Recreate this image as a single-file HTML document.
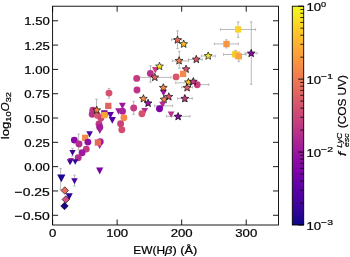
<!DOCTYPE html><html><head><meta charset="utf-8"><style>html,body{margin:0;padding:0;background:#fff;}svg{display:block;will-change:transform;}text{font-family:"Liberation Sans",sans-serif;fill:#000;stroke:#000;stroke-width:0.22px;}</style></head><body><svg width="350" height="257" viewBox="0 0 350 257"><defs><linearGradient id="pl" x1="0" y1="1" x2="0" y2="0"><stop offset="0.000" stop-color="#0d0887"/><stop offset="0.050" stop-color="#2a0593"/><stop offset="0.100" stop-color="#41049d"/><stop offset="0.150" stop-color="#5601a4"/><stop offset="0.200" stop-color="#6a00a8"/><stop offset="0.250" stop-color="#7e03a8"/><stop offset="0.300" stop-color="#8f0da4"/><stop offset="0.350" stop-color="#a11b9b"/><stop offset="0.400" stop-color="#b12a90"/><stop offset="0.450" stop-color="#bf3984"/><stop offset="0.500" stop-color="#cc4778"/><stop offset="0.550" stop-color="#d6556d"/><stop offset="0.600" stop-color="#e16462"/><stop offset="0.650" stop-color="#ea7457"/><stop offset="0.700" stop-color="#f2844b"/><stop offset="0.750" stop-color="#f89540"/><stop offset="0.800" stop-color="#fca636"/><stop offset="0.850" stop-color="#feba2c"/><stop offset="0.900" stop-color="#fcce25"/><stop offset="0.950" stop-color="#f7e425"/><stop offset="1.000" stop-color="#f0f921"/></linearGradient></defs><g id="pts"><line x1="220.4" y1="29.5" x2="255.6" y2="29.5" stroke="#a8a8a8" stroke-width="0.8"/>
<line x1="220.4" y1="28.2" x2="220.4" y2="30.8" stroke="#a8a8a8" stroke-width="0.8"/>
<line x1="255.6" y1="28.2" x2="255.6" y2="30.8" stroke="#a8a8a8" stroke-width="0.8"/>
<line x1="238.1" y1="21.9" x2="238.1" y2="37.4" stroke="#a8a8a8" stroke-width="0.8"/>
<line x1="236.79999999999998" y1="21.9" x2="239.4" y2="21.9" stroke="#a8a8a8" stroke-width="0.8"/>
<line x1="236.79999999999998" y1="37.4" x2="239.4" y2="37.4" stroke="#a8a8a8" stroke-width="0.8"/>
<line x1="251.3" y1="21.9" x2="251.3" y2="84.3" stroke="#a8a8a8" stroke-width="0.8"/>
<line x1="250.0" y1="21.9" x2="252.60000000000002" y2="21.9" stroke="#a8a8a8" stroke-width="0.8"/>
<line x1="250.0" y1="84.3" x2="252.60000000000002" y2="84.3" stroke="#a8a8a8" stroke-width="0.8"/>
<line x1="245.0" y1="53.2" x2="257.0" y2="53.2" stroke="#a8a8a8" stroke-width="0.8"/>
<line x1="245.0" y1="51.900000000000006" x2="245.0" y2="54.5" stroke="#a8a8a8" stroke-width="0.8"/>
<line x1="257.0" y1="51.900000000000006" x2="257.0" y2="54.5" stroke="#a8a8a8" stroke-width="0.8"/>
<line x1="214.4" y1="43.9" x2="238.4" y2="43.9" stroke="#a8a8a8" stroke-width="0.8"/>
<line x1="214.4" y1="42.6" x2="214.4" y2="45.199999999999996" stroke="#a8a8a8" stroke-width="0.8"/>
<line x1="238.4" y1="42.6" x2="238.4" y2="45.199999999999996" stroke="#a8a8a8" stroke-width="0.8"/>
<line x1="226.4" y1="39.8" x2="226.4" y2="47.9" stroke="#a8a8a8" stroke-width="0.8"/>
<line x1="225.1" y1="39.8" x2="227.70000000000002" y2="39.8" stroke="#a8a8a8" stroke-width="0.8"/>
<line x1="225.1" y1="47.9" x2="227.70000000000002" y2="47.9" stroke="#a8a8a8" stroke-width="0.8"/>
<line x1="223.5" y1="54.5" x2="246.1" y2="54.5" stroke="#a8a8a8" stroke-width="0.8"/>
<line x1="223.5" y1="53.2" x2="223.5" y2="55.8" stroke="#a8a8a8" stroke-width="0.8"/>
<line x1="246.1" y1="53.2" x2="246.1" y2="55.8" stroke="#a8a8a8" stroke-width="0.8"/>
<line x1="235.5" y1="50.4" x2="235.5" y2="58.0" stroke="#a8a8a8" stroke-width="0.8"/>
<line x1="234.2" y1="50.4" x2="236.8" y2="50.4" stroke="#a8a8a8" stroke-width="0.8"/>
<line x1="234.2" y1="58.0" x2="236.8" y2="58.0" stroke="#a8a8a8" stroke-width="0.8"/>
<line x1="238.8" y1="52.0" x2="238.8" y2="61.6" stroke="#a8a8a8" stroke-width="0.8"/>
<line x1="237.5" y1="52.0" x2="240.10000000000002" y2="52.0" stroke="#a8a8a8" stroke-width="0.8"/>
<line x1="237.5" y1="61.6" x2="240.10000000000002" y2="61.6" stroke="#a8a8a8" stroke-width="0.8"/>
<line x1="201.4" y1="56.0" x2="215.3" y2="56.0" stroke="#a8a8a8" stroke-width="0.8"/>
<line x1="201.4" y1="54.7" x2="201.4" y2="57.3" stroke="#a8a8a8" stroke-width="0.8"/>
<line x1="215.3" y1="54.7" x2="215.3" y2="57.3" stroke="#a8a8a8" stroke-width="0.8"/>
<line x1="188.6" y1="59.5" x2="202.3" y2="59.5" stroke="#a8a8a8" stroke-width="0.8"/>
<line x1="188.6" y1="58.2" x2="188.6" y2="60.8" stroke="#a8a8a8" stroke-width="0.8"/>
<line x1="202.3" y1="58.2" x2="202.3" y2="60.8" stroke="#a8a8a8" stroke-width="0.8"/>
<line x1="177.5" y1="30.9" x2="177.5" y2="48.6" stroke="#a8a8a8" stroke-width="0.8"/>
<line x1="176.2" y1="30.9" x2="178.8" y2="30.9" stroke="#a8a8a8" stroke-width="0.8"/>
<line x1="176.2" y1="48.6" x2="178.8" y2="48.6" stroke="#a8a8a8" stroke-width="0.8"/>
<line x1="171.5" y1="39.6" x2="181.8" y2="39.6" stroke="#a8a8a8" stroke-width="0.8"/>
<line x1="171.5" y1="38.300000000000004" x2="171.5" y2="40.9" stroke="#a8a8a8" stroke-width="0.8"/>
<line x1="181.8" y1="38.300000000000004" x2="181.8" y2="40.9" stroke="#a8a8a8" stroke-width="0.8"/>
<line x1="179.3" y1="51.4" x2="179.3" y2="68.2" stroke="#a8a8a8" stroke-width="0.8"/>
<line x1="178.0" y1="51.4" x2="180.60000000000002" y2="51.4" stroke="#a8a8a8" stroke-width="0.8"/>
<line x1="178.0" y1="68.2" x2="180.60000000000002" y2="68.2" stroke="#a8a8a8" stroke-width="0.8"/>
<line x1="172.3" y1="60.9" x2="188.5" y2="60.9" stroke="#a8a8a8" stroke-width="0.8"/>
<line x1="172.3" y1="59.6" x2="172.3" y2="62.199999999999996" stroke="#a8a8a8" stroke-width="0.8"/>
<line x1="188.5" y1="59.6" x2="188.5" y2="62.199999999999996" stroke="#a8a8a8" stroke-width="0.8"/>
<line x1="150.4" y1="65.8" x2="150.4" y2="82.2" stroke="#a8a8a8" stroke-width="0.8"/>
<line x1="149.1" y1="65.8" x2="151.70000000000002" y2="65.8" stroke="#a8a8a8" stroke-width="0.8"/>
<line x1="149.1" y1="82.2" x2="151.70000000000002" y2="82.2" stroke="#a8a8a8" stroke-width="0.8"/>
<line x1="136.8" y1="77.4" x2="170.9" y2="77.4" stroke="#a8a8a8" stroke-width="0.8"/>
<line x1="136.8" y1="76.10000000000001" x2="136.8" y2="78.7" stroke="#a8a8a8" stroke-width="0.8"/>
<line x1="170.9" y1="76.10000000000001" x2="170.9" y2="78.7" stroke="#a8a8a8" stroke-width="0.8"/>
<line x1="196.8" y1="84.6" x2="208.8" y2="84.6" stroke="#a8a8a8" stroke-width="0.8"/>
<line x1="196.8" y1="83.3" x2="196.8" y2="85.89999999999999" stroke="#a8a8a8" stroke-width="0.8"/>
<line x1="208.8" y1="83.3" x2="208.8" y2="85.89999999999999" stroke="#a8a8a8" stroke-width="0.8"/>
<line x1="175.7" y1="82.8" x2="190.0" y2="82.8" stroke="#a8a8a8" stroke-width="0.8"/>
<line x1="175.7" y1="81.5" x2="175.7" y2="84.1" stroke="#a8a8a8" stroke-width="0.8"/>
<line x1="190.0" y1="81.5" x2="190.0" y2="84.1" stroke="#a8a8a8" stroke-width="0.8"/>
<line x1="181.7" y1="87.3" x2="192.5" y2="87.3" stroke="#a8a8a8" stroke-width="0.8"/>
<line x1="181.7" y1="86.0" x2="181.7" y2="88.6" stroke="#a8a8a8" stroke-width="0.8"/>
<line x1="192.5" y1="86.0" x2="192.5" y2="88.6" stroke="#a8a8a8" stroke-width="0.8"/>
<line x1="177.7" y1="98.4" x2="192.3" y2="98.4" stroke="#a8a8a8" stroke-width="0.8"/>
<line x1="177.7" y1="97.10000000000001" x2="177.7" y2="99.7" stroke="#a8a8a8" stroke-width="0.8"/>
<line x1="192.3" y1="97.10000000000001" x2="192.3" y2="99.7" stroke="#a8a8a8" stroke-width="0.8"/>
<line x1="184.9" y1="95.1" x2="184.9" y2="101.5" stroke="#a8a8a8" stroke-width="0.8"/>
<line x1="183.6" y1="95.1" x2="186.20000000000002" y2="95.1" stroke="#a8a8a8" stroke-width="0.8"/>
<line x1="183.6" y1="101.5" x2="186.20000000000002" y2="101.5" stroke="#a8a8a8" stroke-width="0.8"/>
<line x1="166.6" y1="116.3" x2="190.0" y2="116.3" stroke="#a8a8a8" stroke-width="0.8"/>
<line x1="166.6" y1="115.0" x2="166.6" y2="117.6" stroke="#a8a8a8" stroke-width="0.8"/>
<line x1="190.0" y1="115.0" x2="190.0" y2="117.6" stroke="#a8a8a8" stroke-width="0.8"/>
<line x1="154.6" y1="105.8" x2="172.6" y2="105.8" stroke="#a8a8a8" stroke-width="0.8"/>
<line x1="154.6" y1="104.5" x2="154.6" y2="107.1" stroke="#a8a8a8" stroke-width="0.8"/>
<line x1="172.6" y1="104.5" x2="172.6" y2="107.1" stroke="#a8a8a8" stroke-width="0.8"/>
<line x1="133.7" y1="101.3" x2="133.7" y2="114.3" stroke="#a8a8a8" stroke-width="0.8"/>
<line x1="132.39999999999998" y1="101.3" x2="135.0" y2="101.3" stroke="#a8a8a8" stroke-width="0.8"/>
<line x1="132.39999999999998" y1="114.3" x2="135.0" y2="114.3" stroke="#a8a8a8" stroke-width="0.8"/>
<line x1="109.0" y1="88.4" x2="109.0" y2="98.2" stroke="#a8a8a8" stroke-width="0.8"/>
<line x1="107.7" y1="88.4" x2="110.3" y2="88.4" stroke="#a8a8a8" stroke-width="0.8"/>
<line x1="107.7" y1="98.2" x2="110.3" y2="98.2" stroke="#a8a8a8" stroke-width="0.8"/>
<line x1="96.5" y1="99.2" x2="96.5" y2="108.0" stroke="#a8a8a8" stroke-width="0.8"/>
<line x1="95.2" y1="99.2" x2="97.8" y2="99.2" stroke="#a8a8a8" stroke-width="0.8"/>
<line x1="95.2" y1="108.0" x2="97.8" y2="108.0" stroke="#a8a8a8" stroke-width="0.8"/>
<line x1="60.6" y1="168.4" x2="60.6" y2="189.3" stroke="#a8a8a8" stroke-width="0.8"/>
<line x1="59.300000000000004" y1="168.4" x2="61.9" y2="168.4" stroke="#a8a8a8" stroke-width="0.8"/>
<line x1="59.300000000000004" y1="189.3" x2="61.9" y2="189.3" stroke="#a8a8a8" stroke-width="0.8"/>
<line x1="74.5" y1="175.2" x2="74.5" y2="185.9" stroke="#a8a8a8" stroke-width="0.8"/>
<line x1="73.2" y1="175.2" x2="75.8" y2="175.2" stroke="#a8a8a8" stroke-width="0.8"/>
<line x1="73.2" y1="185.9" x2="75.8" y2="185.9" stroke="#a8a8a8" stroke-width="0.8"/>
<line x1="72.5" y1="148.4" x2="72.5" y2="156.0" stroke="#a8a8a8" stroke-width="0.8"/>
<line x1="71.2" y1="148.4" x2="73.8" y2="148.4" stroke="#a8a8a8" stroke-width="0.8"/>
<line x1="71.2" y1="156.0" x2="73.8" y2="156.0" stroke="#a8a8a8" stroke-width="0.8"/>
<line x1="78.6" y1="134.2" x2="78.6" y2="150.0" stroke="#a8a8a8" stroke-width="0.8"/>
<line x1="77.3" y1="134.2" x2="79.89999999999999" y2="134.2" stroke="#a8a8a8" stroke-width="0.8"/>
<line x1="77.3" y1="150.0" x2="79.89999999999999" y2="150.0" stroke="#a8a8a8" stroke-width="0.8"/>
<rect x="234.95" y="26.25" width="6.3" height="6.3" fill="#fcd225"/>
<rect x="223.35" y="40.85" width="6.3" height="6.3" fill="#f89540"/>
<rect x="232.15" y="51.15" width="6.3" height="6.3" fill="#fcc726"/>
<rect x="235.65" y="53.15" width="6.3" height="6.3" fill="#fba238"/>
<polygon points="251.20,49.30 252.28,51.91 255.10,52.13 252.95,53.97 253.61,56.72 251.20,55.24 248.79,56.72 249.45,53.97 247.30,52.13 250.12,51.91" fill="#8b0aa5" stroke="#000" stroke-width="0.65" stroke-linejoin="miter"/>
<polygon points="208.20,51.90 209.28,54.51 212.10,54.73 209.95,56.57 210.61,59.32 208.20,57.84 205.79,59.32 206.45,56.57 204.30,54.73 207.12,54.51" fill="#f4e926" stroke="#000" stroke-width="0.65" stroke-linejoin="miter"/>
<polygon points="177.50,35.90 178.58,38.51 181.40,38.73 179.25,40.57 179.91,43.32 177.50,41.84 175.09,43.32 175.75,40.57 173.60,38.73 176.42,38.51" fill="#e9695a" stroke="#000" stroke-width="0.65" stroke-linejoin="miter"/>
<polygon points="183.70,40.00 184.78,42.61 187.60,42.83 185.45,44.67 186.11,47.42 183.70,45.95 181.29,47.42 181.95,44.67 179.80,42.83 182.62,42.61" fill="#fcc125" stroke="#000" stroke-width="0.65" stroke-linejoin="miter"/>
<polygon points="179.10,56.70 180.18,59.31 183.00,59.53 180.85,61.37 181.51,64.12 179.10,62.64 176.69,64.12 177.35,61.37 175.20,59.53 178.02,59.31" fill="#f0824c" stroke="#000" stroke-width="0.65" stroke-linejoin="miter"/>
<polygon points="196.30,55.30 197.38,57.91 200.20,58.13 198.05,59.97 198.71,62.72 196.30,61.24 193.89,62.72 194.55,59.97 192.40,58.13 195.22,57.91" fill="#d6556d" stroke="#000" stroke-width="0.65" stroke-linejoin="miter"/>
<polygon points="186.10,65.10 187.18,67.71 190.00,67.93 187.85,69.77 188.51,72.52 186.10,71.05 183.69,72.52 184.35,69.77 182.20,67.93 185.02,67.71" fill="#d5536f" stroke="#000" stroke-width="0.65" stroke-linejoin="miter"/>
<rect x="179.95" y="70.75" width="6.3" height="6.3" fill="#f3894a"/>
<circle cx="176.1" cy="76.9" r="3.45" fill="#d8576b"/>
<polygon points="188.40,78.20 189.48,80.81 192.30,81.03 190.15,82.87 190.81,85.62 188.40,84.14 185.99,85.62 186.65,82.87 184.50,81.03 187.32,80.81" fill="#fdbf2b" stroke="#000" stroke-width="0.65" stroke-linejoin="miter"/>
<circle cx="197.2" cy="84.7" r="3.45" fill="#c73e7e"/>
<polygon points="193.30,77.50 194.38,80.11 197.20,80.33 195.05,82.17 195.71,84.92 193.30,83.44 190.89,84.92 191.55,82.17 189.40,80.33 192.22,80.11" fill="#c23c81" stroke="#000" stroke-width="0.65" stroke-linejoin="miter"/>
<polygon points="187.10,83.70 188.18,86.31 191.00,86.53 188.85,88.37 189.51,91.12 187.10,89.64 184.69,91.12 185.35,88.37 183.20,86.53 186.02,86.31" fill="#df5f65" stroke="#000" stroke-width="0.65" stroke-linejoin="miter"/>
<polygon points="184.80,94.60 185.88,97.21 188.70,97.43 186.55,99.27 187.21,102.02 184.80,100.55 182.39,102.02 183.05,99.27 180.90,97.43 183.72,97.21" fill="#c03b83" stroke="#000" stroke-width="0.65" stroke-linejoin="miter"/>
<polygon points="178.10,112.50 179.18,115.11 182.00,115.33 179.85,117.17 180.51,119.92 178.10,118.44 175.69,119.92 176.35,117.17 174.20,115.33 177.02,115.11" fill="#8b0aa5" stroke="#000" stroke-width="0.65" stroke-linejoin="miter"/>
<polygon points="151.90,67.00 158.70,67.00 155.30,73.40" fill="#c8407b"/>
<circle cx="150.4" cy="73.4" r="3.45" fill="#b8318a"/>
<polygon points="159.50,62.30 160.58,64.91 163.40,65.13 161.25,66.97 161.91,69.72 159.50,68.25 157.09,69.72 157.75,66.97 155.60,65.13 158.42,64.91" fill="#f6e626" stroke="#000" stroke-width="0.65" stroke-linejoin="miter"/>
<polygon points="154.80,73.30 155.88,75.91 158.70,76.13 156.55,77.97 157.21,80.72 154.80,79.25 152.39,80.72 153.05,77.97 150.90,76.13 153.72,75.91" fill="#e06464" stroke="#000" stroke-width="0.65" stroke-linejoin="miter"/>
<circle cx="136.7" cy="78.4" r="3.45" fill="#c63b80"/>
<circle cx="137.0" cy="90.0" r="3.45" fill="#c0338a"/>
<polygon points="160.10,89.80 166.90,89.80 163.50,96.20" fill="#9a169f"/>
<polygon points="163.30,83.70 164.38,86.31 167.20,86.53 165.05,88.37 165.71,91.12 163.30,89.64 160.89,91.12 161.55,88.37 159.40,86.53 162.22,86.31" fill="#f3894a" stroke="#000" stroke-width="0.65" stroke-linejoin="miter"/>
<polygon points="168.80,92.70 169.88,95.31 172.70,95.53 170.55,97.37 171.21,100.12 168.80,98.64 166.39,100.12 167.05,97.37 164.90,95.53 167.72,95.31" fill="#d6556d" stroke="#000" stroke-width="0.65" stroke-linejoin="miter"/>
<polygon points="164.10,95.40 165.18,98.01 168.00,98.23 165.85,100.07 166.51,102.82 164.10,101.34 161.69,102.82 162.35,100.07 160.20,98.23 163.02,98.01" fill="#f0804e" stroke="#000" stroke-width="0.65" stroke-linejoin="miter"/>
<polygon points="159.20,101.70 166.00,101.70 162.60,108.10" fill="#b02a8f"/>
<circle cx="159.5" cy="108.8" r="3.45" fill="#7e03a8"/>
<polygon points="141.30,107.90 148.10,107.90 144.70,114.30" fill="#b42e8d"/>
<circle cx="141.9" cy="113.8" r="3.45" fill="#d5536f"/>
<polygon points="167.70,111.40 174.50,111.40 171.10,117.80" fill="#b8318a"/>
<polygon points="143.40,94.60 144.48,97.21 147.30,97.43 145.15,99.27 145.81,102.02 143.40,100.55 140.99,102.02 141.65,99.27 139.50,97.43 142.32,97.21" fill="#f58c46" stroke="#000" stroke-width="0.65" stroke-linejoin="miter"/>
<polygon points="148.10,99.20 149.18,101.81 152.00,102.03 149.85,103.87 150.51,106.62 148.10,105.14 145.69,106.62 146.35,103.87 144.20,102.03 147.02,101.81" fill="#9613a1" stroke="#000" stroke-width="0.65" stroke-linejoin="miter"/>
<circle cx="133.7" cy="108.0" r="3.45" fill="#c33d80"/>
<circle cx="109.0" cy="93.1" r="3.45" fill="#d6506f"/>
<polygon points="119.00,102.80 125.80,102.80 122.40,109.20" fill="#9c179e"/>
<polygon points="115.20,108.30 122.00,108.30 118.60,114.70" fill="#a01a9c"/>
<circle cx="122.5" cy="111.3" r="3.45" fill="#a8229a"/>
<circle cx="123.9" cy="117.8" r="3.45" fill="#f48949"/>
<polygon points="106.90,111.91 113.90,111.91 110.40,118.49" fill="#5c01a6"/>
<polygon points="108.70,116.91 115.90,116.91 112.30,123.69" fill="#5402a3"/>
<circle cx="120.6" cy="123.7" r="3.45" fill="#c9427c"/>
<circle cx="121.8" cy="129.8" r="3.45" fill="#d34d70"/>
<rect x="105.15" y="102.75" width="6.3" height="6.3" fill="#e0645f"/>
<circle cx="92.8" cy="110.2" r="3.45" fill="#c03a83"/>
<circle cx="92.2" cy="114.2" r="3.45" fill="#b8318a"/>
<circle cx="97.5" cy="115.4" r="3.45" fill="#d65a6c"/>
<circle cx="100.9" cy="118.1" r="3.45" fill="#cc4778"/>
<rect x="101.25" y="110.25" width="6.3" height="6.3" fill="#6a00a8"/>
<rect x="101.25" y="111.85" width="6.3" height="6.3" fill="#fca338"/>
<polygon points="96.70,106.10 97.78,108.71 100.60,108.93 98.45,110.77 99.11,113.52 96.70,112.05 94.29,113.52 94.95,110.77 92.80,108.93 95.62,108.71" fill="#f38948" stroke="#000" stroke-width="0.65" stroke-linejoin="miter"/>
<circle cx="99.0" cy="124.0" r="3.45" fill="#c03a83"/>
<circle cx="99.8" cy="127.3" r="3.45" fill="#a41e9a"/>
<polygon points="96.40,127.60 103.20,127.60 99.80,134.00" fill="#a41e9a"/>
<circle cx="100.2" cy="141.7" r="3.45" fill="#a3199b"/>
<polygon points="96.30,142.50 103.10,142.50 99.70,148.90" fill="#a3199b"/>
<rect x="94.75" y="139.35" width="6.3" height="6.3" fill="#e86a5f"/>
<polygon points="86.30,131.19 92.90,131.19 89.60,137.41" fill="#4903a0"/>
<rect x="82.05" y="134.65" width="6.3" height="6.3" fill="#f48a47"/>
<circle cx="74.3" cy="140.1" r="3.45" fill="#8c0ba5"/>
<circle cx="79.0" cy="144.0" r="3.45" fill="#b42e8f"/>
<circle cx="87.9" cy="142.1" r="3.45" fill="#8f0da4"/>
<circle cx="86.3" cy="149.1" r="3.45" fill="#c13b82"/>
<circle cx="82.1" cy="152.7" r="3.45" fill="#9d1a9f"/>
<polygon points="69.35,149.94 75.65,149.94 72.50,155.86" fill="#3d049b"/>
<circle cx="78.2" cy="157.7" r="3.45" fill="#b42e8f"/>
<polygon points="68.00,157.88 74.00,157.88 71.00,163.52" fill="#b52f8c"/>
<polygon points="66.85,159.24 73.15,159.24 70.00,165.16" fill="#3c049b"/>
<polygon points="72.20,159.18 78.20,159.18 75.20,164.82" fill="#2a0a97"/>
<polygon points="57.15,174.49 65.45,174.49 61.30,182.31" fill="#20068f"/>
<polygon points="71.25,178.14 77.75,178.14 74.50,184.26" fill="#4a02a0"/>
<polygon points="96.10,167.61 103.30,167.61 99.70,174.39" fill="#7a02a8"/>
<polygon points="64.80,186.75 68.55,190.50 64.80,194.25 61.05,190.50" fill="#e66c5c" stroke="#000" stroke-width="0.6"/>
<polygon points="65.60,193.21 72.80,193.21 69.20,199.99" fill="#2a0593"/>
<polygon points="65.80,195.75 69.55,199.50 65.80,203.25 62.05,199.50" fill="#d24f86" stroke="#000" stroke-width="0.6"/>
<polygon points="64.50,202.25 68.25,206.00 64.50,209.75 60.75,206.00" fill="#12078a" stroke="#000" stroke-width="0.6"/></g><rect x="52.6" y="6.2" width="225.90" height="218.80" fill="none" stroke="#000" stroke-width="0.9"/><line x1="52.6" y1="20.79" x2="58.1" y2="20.79" stroke="#000" stroke-width="0.9"/><line x1="278.5" y1="20.79" x2="273.0" y2="20.79" stroke="#000" stroke-width="0.9"/><text x="24.19" y="25.39" font-size="11.50" textLength="25.61" lengthAdjust="spacingAndGlyphs">1.50</text><line x1="52.6" y1="45.10" x2="58.1" y2="45.10" stroke="#000" stroke-width="0.9"/><line x1="278.5" y1="45.10" x2="273.0" y2="45.10" stroke="#000" stroke-width="0.9"/><text x="24.19" y="49.70" font-size="11.50" textLength="25.61" lengthAdjust="spacingAndGlyphs">1.25</text><line x1="52.6" y1="69.41" x2="58.1" y2="69.41" stroke="#000" stroke-width="0.9"/><line x1="278.5" y1="69.41" x2="273.0" y2="69.41" stroke="#000" stroke-width="0.9"/><text x="24.19" y="74.01" font-size="11.50" textLength="25.61" lengthAdjust="spacingAndGlyphs">1.00</text><line x1="52.6" y1="93.72" x2="58.1" y2="93.72" stroke="#000" stroke-width="0.9"/><line x1="278.5" y1="93.72" x2="273.0" y2="93.72" stroke="#000" stroke-width="0.9"/><text x="24.19" y="98.32" font-size="11.50" textLength="25.61" lengthAdjust="spacingAndGlyphs">0.75</text><line x1="52.6" y1="118.03" x2="58.1" y2="118.03" stroke="#000" stroke-width="0.9"/><line x1="278.5" y1="118.03" x2="273.0" y2="118.03" stroke="#000" stroke-width="0.9"/><text x="24.19" y="122.63" font-size="11.50" textLength="25.61" lengthAdjust="spacingAndGlyphs">0.50</text><line x1="52.6" y1="142.34" x2="58.1" y2="142.34" stroke="#000" stroke-width="0.9"/><line x1="278.5" y1="142.34" x2="273.0" y2="142.34" stroke="#000" stroke-width="0.9"/><text x="24.19" y="146.94" font-size="11.50" textLength="25.61" lengthAdjust="spacingAndGlyphs">0.25</text><line x1="52.6" y1="166.65" x2="58.1" y2="166.65" stroke="#000" stroke-width="0.9"/><line x1="278.5" y1="166.65" x2="273.0" y2="166.65" stroke="#000" stroke-width="0.9"/><text x="24.19" y="171.25" font-size="11.50" textLength="25.61" lengthAdjust="spacingAndGlyphs">0.00</text><line x1="52.6" y1="190.96" x2="58.1" y2="190.96" stroke="#000" stroke-width="0.9"/><line x1="278.5" y1="190.96" x2="273.0" y2="190.96" stroke="#000" stroke-width="0.9"/><text x="14.56" y="195.56" font-size="11.50" textLength="35.24" lengthAdjust="spacingAndGlyphs">−0.25</text><line x1="52.6" y1="215.28" x2="58.1" y2="215.28" stroke="#000" stroke-width="0.9"/><line x1="278.5" y1="215.28" x2="273.0" y2="215.28" stroke="#000" stroke-width="0.9"/><text x="14.56" y="219.88" font-size="11.50" textLength="35.24" lengthAdjust="spacingAndGlyphs">−0.50</text><line x1="52.60" y1="225.0" x2="52.60" y2="219.5" stroke="#000" stroke-width="0.9"/><line x1="52.60" y1="6.2" x2="52.60" y2="11.7" stroke="#000" stroke-width="0.9"/><text x="48.94" y="236.60" font-size="11.50" textLength="7.32" lengthAdjust="spacingAndGlyphs">0</text><line x1="117.14" y1="225.0" x2="117.14" y2="219.5" stroke="#000" stroke-width="0.9"/><line x1="117.14" y1="6.2" x2="117.14" y2="11.7" stroke="#000" stroke-width="0.9"/><text x="106.17" y="236.60" font-size="11.50" textLength="21.95" lengthAdjust="spacingAndGlyphs">100</text><line x1="181.69" y1="225.0" x2="181.69" y2="219.5" stroke="#000" stroke-width="0.9"/><line x1="181.69" y1="6.2" x2="181.69" y2="11.7" stroke="#000" stroke-width="0.9"/><text x="170.71" y="236.60" font-size="11.50" textLength="21.95" lengthAdjust="spacingAndGlyphs">200</text><line x1="246.23" y1="225.0" x2="246.23" y2="219.5" stroke="#000" stroke-width="0.9"/><line x1="246.23" y1="6.2" x2="246.23" y2="11.7" stroke="#000" stroke-width="0.9"/><text x="235.25" y="236.60" font-size="11.50" textLength="21.95" lengthAdjust="spacingAndGlyphs">300</text><text x="133.30" y="253.60" font-size="11.50" textLength="31.77" lengthAdjust="spacingAndGlyphs">EW(H</text><text x="165.07" y="253.60" font-size="11.50" textLength="7.34" lengthAdjust="spacingAndGlyphs" font-style="italic">β</text><text x="172.41" y="253.60" font-size="11.50" textLength="24.98" lengthAdjust="spacingAndGlyphs">) (Å)</text><g transform="translate(8.6,139.2) rotate(-90)"><text x="0.00" y="0.00" font-size="11.50" textLength="17.53" lengthAdjust="spacingAndGlyphs">log</text><text x="17.53" y="2.60" font-size="8.05" textLength="10.24" lengthAdjust="spacingAndGlyphs">10</text><text x="27.77" y="0.00" font-size="11.50" textLength="9.05" lengthAdjust="spacingAndGlyphs" font-style="italic">O</text><text x="36.83" y="2.60" font-size="8.05" textLength="10.24" lengthAdjust="spacingAndGlyphs">32</text></g><rect x="292.3" y="6.2" width="11.40" height="218.80" fill="url(#pl)" stroke="#000" stroke-width="0.9"/><line x1="303.7" y1="225.00" x2="298.2" y2="225.00" stroke="#000" stroke-width="0.9"/><text x="306.50" y="229.80" font-size="11.50" textLength="14.63" lengthAdjust="spacingAndGlyphs">10</text><text x="321.13" y="225.30" font-size="8.05" textLength="11.87" lengthAdjust="spacingAndGlyphs">−3</text><line x1="303.7" y1="203.04" x2="300.3" y2="203.04" stroke="#000" stroke-width="0.8"/><line x1="303.7" y1="190.20" x2="300.3" y2="190.20" stroke="#000" stroke-width="0.8"/><line x1="303.7" y1="181.09" x2="300.3" y2="181.09" stroke="#000" stroke-width="0.8"/><line x1="303.7" y1="174.02" x2="300.3" y2="174.02" stroke="#000" stroke-width="0.8"/><line x1="303.7" y1="168.25" x2="300.3" y2="168.25" stroke="#000" stroke-width="0.8"/><line x1="303.7" y1="163.36" x2="300.3" y2="163.36" stroke="#000" stroke-width="0.8"/><line x1="303.7" y1="159.13" x2="300.3" y2="159.13" stroke="#000" stroke-width="0.8"/><line x1="303.7" y1="155.40" x2="300.3" y2="155.40" stroke="#000" stroke-width="0.8"/><line x1="303.7" y1="152.07" x2="298.2" y2="152.07" stroke="#000" stroke-width="0.9"/><text x="306.50" y="156.87" font-size="11.50" textLength="14.63" lengthAdjust="spacingAndGlyphs">10</text><text x="321.13" y="152.37" font-size="8.05" textLength="11.87" lengthAdjust="spacingAndGlyphs">−2</text><line x1="303.7" y1="130.11" x2="300.3" y2="130.11" stroke="#000" stroke-width="0.8"/><line x1="303.7" y1="117.27" x2="300.3" y2="117.27" stroke="#000" stroke-width="0.8"/><line x1="303.7" y1="108.16" x2="300.3" y2="108.16" stroke="#000" stroke-width="0.8"/><line x1="303.7" y1="101.09" x2="300.3" y2="101.09" stroke="#000" stroke-width="0.8"/><line x1="303.7" y1="95.31" x2="300.3" y2="95.31" stroke="#000" stroke-width="0.8"/><line x1="303.7" y1="90.43" x2="300.3" y2="90.43" stroke="#000" stroke-width="0.8"/><line x1="303.7" y1="86.20" x2="300.3" y2="86.20" stroke="#000" stroke-width="0.8"/><line x1="303.7" y1="82.47" x2="300.3" y2="82.47" stroke="#000" stroke-width="0.8"/><line x1="303.7" y1="79.13" x2="298.2" y2="79.13" stroke="#000" stroke-width="0.9"/><text x="306.50" y="83.93" font-size="11.50" textLength="14.63" lengthAdjust="spacingAndGlyphs">10</text><text x="321.13" y="79.43" font-size="8.05" textLength="11.87" lengthAdjust="spacingAndGlyphs">−1</text><line x1="303.7" y1="57.18" x2="300.3" y2="57.18" stroke="#000" stroke-width="0.8"/><line x1="303.7" y1="44.34" x2="300.3" y2="44.34" stroke="#000" stroke-width="0.8"/><line x1="303.7" y1="35.22" x2="300.3" y2="35.22" stroke="#000" stroke-width="0.8"/><line x1="303.7" y1="28.16" x2="300.3" y2="28.16" stroke="#000" stroke-width="0.8"/><line x1="303.7" y1="22.38" x2="300.3" y2="22.38" stroke="#000" stroke-width="0.8"/><line x1="303.7" y1="17.50" x2="300.3" y2="17.50" stroke="#000" stroke-width="0.8"/><line x1="303.7" y1="13.27" x2="300.3" y2="13.27" stroke="#000" stroke-width="0.8"/><line x1="303.7" y1="9.54" x2="300.3" y2="9.54" stroke="#000" stroke-width="0.8"/><line x1="303.7" y1="6.20" x2="298.2" y2="6.20" stroke="#000" stroke-width="0.9"/><text x="306.50" y="11.00" font-size="11.50" textLength="14.63" lengthAdjust="spacingAndGlyphs">10</text><text x="321.13" y="6.50" font-size="8.05" textLength="5.12" lengthAdjust="spacingAndGlyphs">0</text><g transform="translate(346.3,155.9) rotate(-90)"><text x="0.00" y="0.00" font-size="11.50" textLength="4.05" lengthAdjust="spacingAndGlyphs" font-style="italic">f</text><text x="8.20" y="-3.90" font-size="8.05" textLength="14.87" lengthAdjust="spacingAndGlyphs" font-style="italic">LyC</text><text x="9.00" y="3.00" font-size="8.05" textLength="13.57" lengthAdjust="spacingAndGlyphs" font-style="italic">esc</text><text x="27.60" y="0.00" font-size="11.50" textLength="53.29" lengthAdjust="spacingAndGlyphs">(COS UV)</text></g></svg></body></html>
